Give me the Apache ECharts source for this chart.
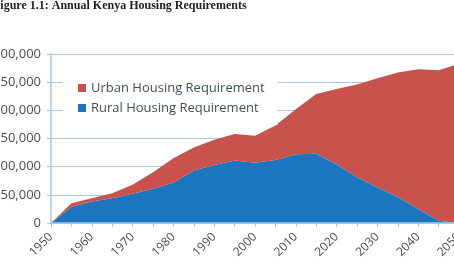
<!DOCTYPE html>
<html>
<head>
<meta charset="utf-8">
<script src="https://cdn.jsdelivr.net/npm/echarts@6/dist/echarts.min.js"></script>
<style>
  html, body { margin: 0; padding: 0; background: #fff; }
  #main { width: 454px; height: 272px; }
</style>
</head>
<body>
<div id="main"></div>
<script>
var chartDom = document.getElementById('main');
var myChart = echarts.init(chartDom);
var option;

// Data: years every 5, housing units per year
const years = ['1950', '1955', '1960', '1965', '1970', '1975', '1980', '1985', '1990', '1995',
  '2000', '2005', '2010', '2015', '2020', '2025', '2030', '2035', '2040', '2045', '2050'];
const rural = [0, 29000, 38000, 44000, 52000, 61000, 72000, 93000, 103000, 111000,
  107000, 112000, 122000, 123000, 104000, 81000, 63000, 46000, 25000, 4000, 0];
const urban = [0, 6000, 6000, 9000, 16000, 29000, 43000, 41000, 45000, 47000,
  48000, 61000, 80000, 106000, 134000, 165000, 194000, 221000, 248000, 267000, 283000];

const gridBlue = '#a9c9e2';
const labelColor = '#4d4d4d';

option = {
  animation: false,
  title: {
    text: 'Figure 1.1: Annual Kenya Housing Requirements',
    left: -7,
    top: 0,
    padding: 0,
    textStyle: {
      fontFamily: 'Liberation Serif',
      fontWeight: 'bold',
      fontSize: 12,
      color: '#222'
    }
  },
  legend: {
    data: ['Urban Housing Requirement', 'Rural Housing Requirement'],
    orient: 'vertical',
    left: 63,
    top: 69,
    padding: [12, 13, 10, 15],
    backgroundColor: '#fff',
    itemWidth: 8,
    itemHeight: 8,
    itemGap: 6,
    icon: 'rect',
    textStyle: {
      fontFamily: 'Open Sans',
      fontSize: 13,
      color: '#3f4f5a',
      lineHeight: 14
    }
  },
  grid: {
    left: 51,
    top: 54,
    right: -5,
    bottom: 49,
    containLabel: false,
    outerBoundsMode: 'none'
  },
  xAxis: {
    type: 'category',
    boundaryGap: false,
    data: years,
    axisLine: { lineStyle: { color: gridBlue, width: 1.5 } },
    axisTick: { show: true, length: 4, interval: 0, lineStyle: { color: gridBlue } },
    axisLabel: {
      interval: 1,
      rotate: 45,
      margin: 12,
      fontFamily: 'Open Sans',
      fontSize: 12,
      color: labelColor
    },
    z: 10
  },
  yAxis: {
    type: 'value',
    min: 0,
    max: 300000,
    interval: 50000,
    axisLine: { show: true, lineStyle: { color: gridBlue, width: 1.5 } },
    axisTick: { show: true, length: 4, lineStyle: { color: gridBlue } },
    splitLine: { lineStyle: { color: gridBlue, width: 1 } },
    axisLabel: {
      margin: 10,
      fontFamily: 'Open Sans',
      fontSize: 13,
      color: labelColor,
      formatter: function (v) { return v.toLocaleString('en-US'); }
    }
  },
  series: [
    {
      name: 'Rural Housing Requirement',
      type: 'line',
      stack: 'total',
      data: rural,
      symbol: 'none',
      lineStyle: { width: 0 },
      itemStyle: { color: '#1c76bf' },
      areaStyle: { color: '#1c76bf', opacity: 1 }
    },
    {
      name: 'Urban Housing Requirement',
      type: 'line',
      stack: 'total',
      data: urban,
      symbol: 'none',
      lineStyle: { width: 0 },
      itemStyle: { color: '#c9524c' },
      areaStyle: { color: '#c9524c', opacity: 1 }
    }
  ]
};

option && myChart.setOption(option);
</script>
</body>
</html>
